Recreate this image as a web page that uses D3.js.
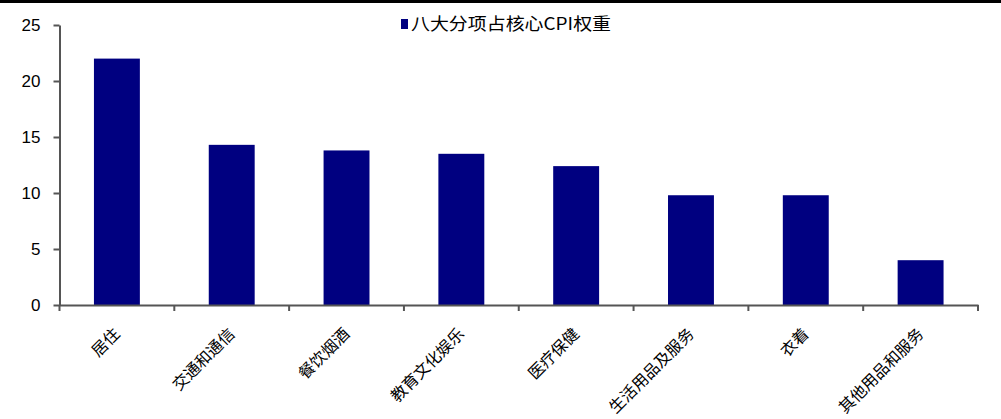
<!DOCTYPE html>
<html>
<head>
<meta charset="UTF-8">
<script src="https://cdn.jsdelivr.net/npm/d3@7"></script>
<style>
  body { margin: 0; background: #fff; }
  .axis path, .axis line { fill: none; stroke: #555; stroke-width: 2; }
  .y.axis text { font: 17px "Liberation Sans", Arial, sans-serif; fill: #000; }
  .x.axis text { font: 16px "Noto Sans CJK SC", sans-serif; fill: #000; }
</style>
</head>
<body>
<script>
// categories and weights (%)
let categories = ["居住", "交通和通信", "餐饮烟酒", "教育文化娱乐", "医疗保健", "生活用品及服务", "衣着", "其他用品和服务"];
let weights = [22.0, 14.3, 13.8, 13.5, 12.4, 9.8, 9.8, 4.0];
let yTicks = [0, 5, 10, 15, 20, 25];
let seriesName = "八大分项占核心CPI权重";

let width = 1001, height = 419;
let plot = {left: 59.5, right: 978, top: 25, bottom: 305};

let svg = d3.select("body").append("svg")
  .attr("width", width)
  .attr("height", height);

// top rule
svg.append("rect")
  .attr("x", 0).attr("y", 0)
  .attr("width", width).attr("height", 3)
  .attr("fill", "#000");

let x = d3.scaleBand()
  .domain(categories)
  .range([plot.left, plot.right])
  .paddingInner(0.6)
  .paddingOuter(0.3);

let y = d3.scaleLinear().domain([0, 25]).range([plot.bottom, plot.top]);

// bars
svg.selectAll(".bar")
  .data(categories)
  .enter().append("rect")
    .attr("class", "bar")
    .attr("x", d => x(d))
    .attr("width", x.bandwidth())
    .attr("y", (d, i) => y(weights[i]))
    .attr("height", (d, i) => y(0) - y(weights[i]))
    .attr("fill", "#000080");

// y axis
svg.append("g")
  .attr("class", "y axis")
  .attr("transform", "translate(" + plot.left + ",0)")
  .call(d3.axisLeft(y).tickValues(yTicks).tickSize(6).tickSizeOuter(0).tickPadding(13));

// x axis, labels at category centres
let xAxis = svg.append("g")
  .attr("class", "x axis")
  .attr("transform", "translate(0," + plot.bottom + ")")
  .call(d3.axisBottom(x).tickSize(0).tickSizeOuter(0));

xAxis.selectAll("text")
  .attr("text-anchor", "end")
  .attr("dy", null)
  .attr("y", 0)
  .attr("transform", "translate(4,30) rotate(-45)");

// boundary ticks
let bounds = d3.range(categories.length + 1).map(i => x.range()[0] + i * x.step());
xAxis.selectAll(".bound")
  .data(bounds)
  .enter().append("line")
    .attr("class", "bound")
    .attr("x1", d => d).attr("x2", d => d)
    .attr("y1", 0).attr("y2", 6)
    .attr("stroke", "#555")
    .attr("stroke-width", 2);

// legend
svg.append("rect")
  .attr("x", 401).attr("y", 19)
  .attr("width", 7).attr("height", 10)
  .attr("fill", "#000080");

svg.append("text")
  .attr("x", 411).attr("y", 30)
  .attr("textLength", 200)
  .attr("lengthAdjust", "spacingAndGlyphs")
  .style("font", "17px 'Noto Sans CJK SC', sans-serif")
  .text(seriesName);
</script>
</body>
</html>
